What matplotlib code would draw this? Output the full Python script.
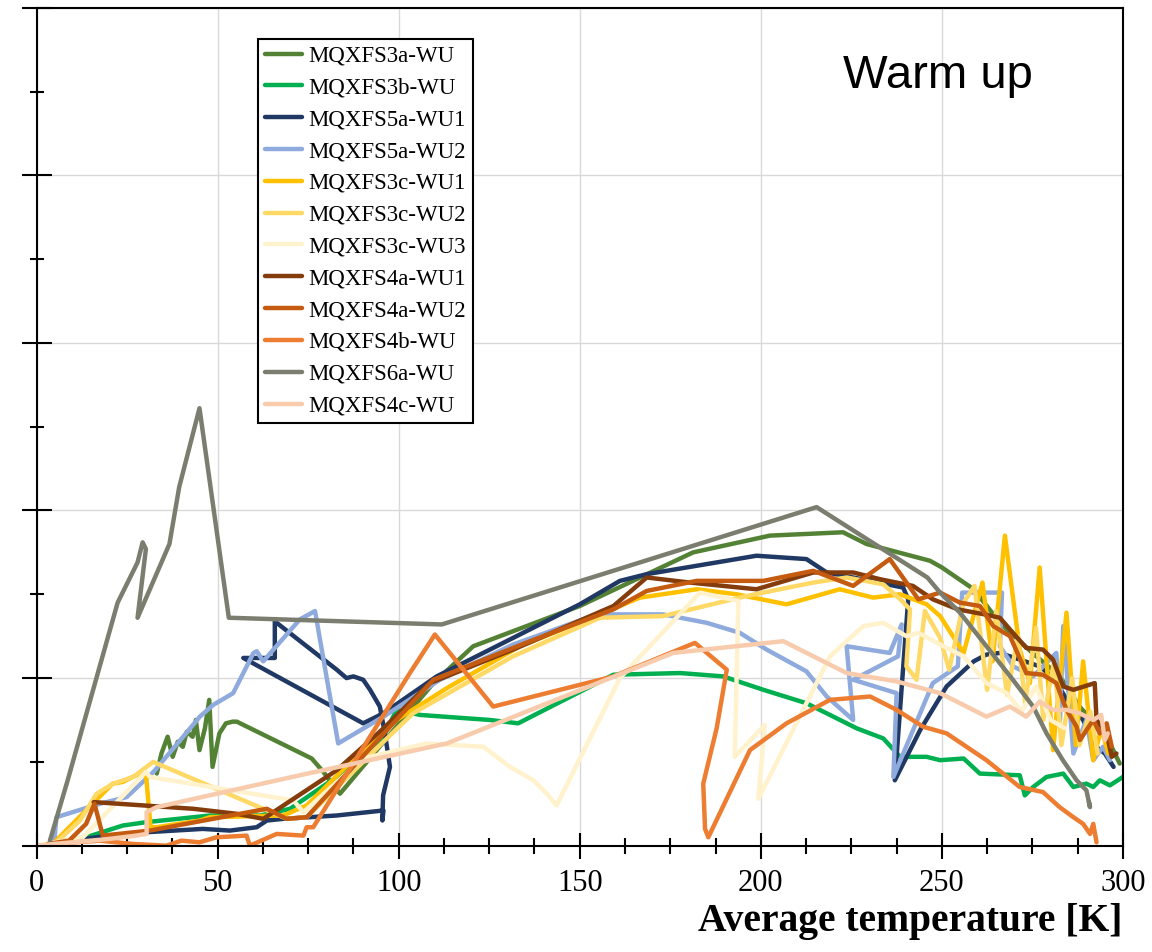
import matplotlib
matplotlib.use("Agg")
import matplotlib.pyplot as plt
from matplotlib.ticker import MultipleLocator, NullFormatter

# Warm-up curves, x = average temperature [K], y = unlabelled quantity
labels = ["MQXFS3a-WU", "MQXFS3b-WU", "MQXFS5a-WU1", "MQXFS5a-WU2",
          "MQXFS3c-WU1", "MQXFS3c-WU2", "MQXFS3c-WU3", "MQXFS4a-WU1",
          "MQXFS4a-WU2", "MQXFS4b-WU", "MQXFS6a-WU", "MQXFS4c-WU"]
colors = ["#548235", "#00B050", "#203864", "#8FAADC",
          "#FFC000", "#FFD966", "#FFF2CC", "#843C0C",
          "#C55A11", "#ED7D31", "#7B7D6E", "#F8CBAD"]

s3a_x = [33.2, 34.5, 36.2, 37.6, 39.0, 40.4, 41.5, 43.1, 44.0, 45.0, 46.5, 47.7, 48.6, 50.5, 52.3, 54.2, 55.3,
         76.0, 79.2, 83.8, 99.4, 109.6, 120.6, 150.0, 181.3, 202.5, 222.7, 229.2, 246.7, 250.0, 258.8, 266.0,
         275.0, 282.6, 288.0, 295.5, 299.1]
s3a_y = [0.43, 0.55, 0.65, 0.53, 0.62, 0.59, 0.68, 0.65, 0.75, 0.57, 0.70, 0.87, 0.47, 0.67, 0.73, 0.74, 0.74,
         0.52, 0.44, 0.31, 0.71, 0.97, 1.19, 1.43, 1.75, 1.85, 1.87, 1.80, 1.70, 1.66, 1.53, 1.33,
         1.15, 1.01, 0.83, 0.65, 0.49]

s3b_x = [5.4, 13.7, 23.8, 30.2, 47.9, 61.7, 70.0, 82.9, 95.8, 99.4, 105.9, 125.2, 133.0, 159.3, 177.7, 189.6,
         200.7, 212.6, 226.5, 233.8, 238.5, 245.8, 249.5, 256.0, 260.5, 271.5, 272.9, 275.2, 278.9, 283.5,
         286.3, 289.9, 291.8, 293.6, 296.4, 300.0]
s3b_y = [0.02, 0.05, 0.12, 0.14, 0.18, 0.18, 0.22, 0.41, 0.65, 0.81, 0.78, 0.75, 0.73, 1.02, 1.03, 1.01,
         0.93, 0.85, 0.70, 0.64, 0.53, 0.53, 0.51, 0.52, 0.43, 0.42, 0.30, 0.35, 0.41, 0.43,
         0.35, 0.37, 0.35, 0.39, 0.36, 0.41]

s5a1_x = [6.0, 20.0, 30.2, 45.9, 53.4, 60.8, 63.6, 68.1, 75.5, 82.9, 95.8, 95.5, 95.7, 97.6, 96.2, 94.8, 92.1,
          90.2, 87.5, 85.6, 82.9, 66.3, 65.8, 65.8, 57.1, 90.2, 95.8, 110.5, 150.0, 161.1, 168.5, 198.8,
          212.6, 218.2, 225.5, 239.3, 240.7, 237.0, 244.0, 251.3, 258.8, 262.3, 266.0, 271.5, 277.0, 281.0,
          285.0, 289.0, 292.0, 295.0, 297.4]
s5a1_y = [0.02, 0.06, 0.08, 0.10, 0.09, 0.11, 0.15, 0.16, 0.17, 0.18, 0.21, 0.15, 0.30, 0.47, 0.67, 0.83, 0.93,
          0.99, 1.01, 1.00, 1.05, 1.33, 1.34, 1.12, 1.12, 0.73, 0.79, 1.01, 1.44, 1.58, 1.62, 1.73,
          1.71, 1.63, 1.60, 1.54, 1.47, 0.39, 0.69, 0.95, 1.10, 1.14, 1.15, 1.11, 1.07, 1.00,
          0.85, 0.75, 0.60, 0.55, 0.47]

s5a2_x = [4.9, 5.5, 17.5, 24.9, 32.3, 40.5, 45.1, 48.8, 54.3, 59.9, 60.8, 62.6, 72.7, 76.9, 83.3, 95.8, 111.4,
          131.6, 154.7, 173.0, 185.0, 194.2, 201.6, 212.6, 218.2, 225.5, 223.7, 235.6, 238.9, 237.9, 225.5,
          237.5, 236.6, 247.5, 254.4, 255.6, 266.6, 266.0, 269.7, 275.2, 281.6, 282.6, 283.5, 286.3, 289.9,
          291.8, 294.5, 296.4]
s5a2_y = [0.02, 0.17, 0.25, 0.29, 0.44, 0.65, 0.77, 0.84, 0.91, 1.15, 1.16, 1.10, 1.35, 1.40, 0.61, 0.77, 0.99,
          1.20, 1.38, 1.38, 1.33, 1.27, 1.17, 1.04, 0.89, 0.75, 1.19, 1.15, 1.32, 1.13, 0.99,
          0.91, 0.41, 0.97, 1.07, 1.51, 1.51, 1.19, 1.07, 1.01, 1.15, 0.75, 1.31, 0.55, 0.75,
          0.51, 0.59, 0.51]

s3c1_x = [5.4, 16.4, 21.0, 23.8, 27.5, 30.2, 31.5, 33.2, 45.1, 47.9, 68.1, 74.6, 95.8, 99.4, 113.3, 133.5,
          155.6, 166.6, 182.3, 193.3, 207.1, 221.8, 231.0, 238.5, 245.8, 249.5, 256.0, 261.2, 264.0, 267.4,
          271.5, 274.3, 277.0, 280.7, 284.4, 287.0, 289.0, 291.8, 294.0, 296.0]
s3c1_y = [0.03, 0.27, 0.37, 0.38, 0.42, 0.43, 0.11, 0.11, 0.15, 0.17, 0.18, 0.24, 0.69, 0.75, 0.94, 1.19,
          1.38, 1.48, 1.53, 1.50, 1.44, 1.53, 1.48, 1.50, 1.44, 1.37, 1.15, 1.57, 1.10, 1.85,
          1.17, 0.97, 1.66, 0.57, 1.39, 0.60, 1.10, 0.51, 0.70, 0.55]

s3c2_x = [5.5, 12.0, 16.6, 21.2, 26.7, 32.2, 69.1, 74.6, 95.8, 104.0, 131.6, 155.6, 173.0, 196.1, 214.5, 223.7,
          233.8, 238.5, 241.2, 240.2, 243.0, 245.3, 249.5, 252.0, 256.0, 259.0, 262.5, 265.0, 268.0, 271.0,
          273.0, 276.0, 278.0, 281.0, 283.0, 286.0, 288.0, 291.0, 293.0]
s3c2_y = [0.02, 0.15, 0.31, 0.37, 0.41, 0.50, 0.16, 0.17, 0.62, 0.79, 1.13, 1.36, 1.37, 1.49, 1.57, 1.60,
          1.56, 1.47, 1.41, 1.07, 0.99, 1.40, 1.24, 1.05, 1.45, 1.55, 0.93, 1.40, 0.90, 1.25,
          0.85, 1.30, 0.75, 1.10, 0.60, 1.00, 0.60, 0.80, 0.55]

s3c3_x = [0.0, 12.8, 30.2, 31.3, 70.9, 73.7, 90.2, 107.7, 123.4, 130.7, 137.2, 140.9, 143.6, 161.1, 183.2,
          193.8, 192.8, 201.1, 199.3, 212.6, 219.1, 228.3, 233.8, 240.2, 243.5, 250.4, 256.0, 262.3, 267.9,
          272.0, 276.0, 280.0, 284.0]
s3c3_y = [0.0, 0.05, 0.44, 0.41, 0.27, 0.20, 0.52, 0.61, 0.59, 0.47, 0.39, 0.31, 0.24, 1.00, 1.51,
          1.46, 0.53, 0.72, 0.28, 0.85, 1.13, 1.31, 1.33, 1.25, 1.27, 1.19, 1.13, 0.97, 0.91,
          0.80, 0.95, 0.75, 0.70]

s4a1_x = [15.8, 43.3, 55.3, 62.6, 82.9, 95.8, 108.6, 131.6, 159.3, 168.5, 180.4, 198.8, 214.5, 225.5, 232.9,
          242.0, 247.5, 254.4, 261.8, 266.0, 268.8, 273.3, 277.9, 280.7, 283.5, 286.3, 292.2, 292.7, 295.5,
          296.9, 298.2]
s4a1_y = [0.26, 0.22, 0.19, 0.16, 0.45, 0.70, 0.97, 1.17, 1.43, 1.60, 1.57, 1.53, 1.63, 1.63, 1.59,
          1.55, 1.47, 1.41, 1.38, 1.36, 1.29, 1.18, 1.17, 1.11, 0.95, 0.93, 0.97, 0.75, 0.67,
          0.53, 0.55]

s4a2_x = [3.1, 9.0, 13.7, 16.0, 18.3, 31.3, 63.6, 69.1, 74.6, 109.6, 136.3, 159.3, 168.5, 182.3, 200.7, 214.5,
          225.5, 235.6, 243.5, 249.5, 255.0, 260.5, 264.2, 268.8, 273.3, 277.9, 281.6, 284.4, 287.2, 288.1,
          291.8, 293.6, 295.5, 296.9]
s4a2_y = [0.01, 0.03, 0.13, 0.25, 0.06, 0.09, 0.22, 0.16, 0.17, 0.99, 1.22, 1.41, 1.52, 1.58, 1.58, 1.64,
          1.55, 1.71, 1.47, 1.51, 1.45, 1.43, 1.31, 1.25, 1.03, 1.02, 0.97, 0.81, 0.71, 0.63,
          0.75, 0.67, 0.73, 0.59]

s4b_x = [3.7, 17.5, 26.7, 35.9, 40.0, 45.0, 49.7, 58.0, 58.9, 66.3, 73.7, 74.6, 76.4, 103.1, 110.0, 126.1,
         159.3, 181.8, 190.6, 187.8, 184.1, 184.6, 185.5, 197.0, 207.1, 219.1, 230.2, 237.5, 244.8, 251.3,
         262.3, 271.5, 277.9, 282.5, 286.3, 289.0, 290.9, 291.8, 292.7]
s4b_y = [0.01, 0.03, 0.01, 0.0, 0.03, 0.02, 0.05, 0.06, 0.0, 0.07, 0.06, 0.11, 0.11, 1.03, 1.26, 0.83,
         1.01, 1.21, 1.05, 0.70, 0.37, 0.10, 0.05, 0.57, 0.73, 0.87, 0.89, 0.81, 0.71, 0.67,
         0.51, 0.35, 0.32, 0.23, 0.17, 0.13, 0.07, 0.13, 0.02]

s6a_x = [3.7, 8.6, 22.4, 27.9, 29.3, 30.2, 27.9, 36.7, 39.4, 45.0, 53.1, 111.9, 215.4, 246.0, 249.5, 255.0,
         262.3, 269.6, 275.2, 278.9, 283.4, 287.2, 289.9, 290.5, 290.9, 290.6]
s6a_y = [0.03, 0.39, 1.45, 1.69, 1.81, 1.77, 1.36, 1.80, 2.14, 2.61, 1.36, 1.32, 2.02, 1.60, 1.51, 1.39,
         1.19, 0.99, 0.83, 0.67, 0.51, 0.39, 0.33, 0.27, 0.23, 0.26]

s4c_x = [0.0, 10.0, 20.0, 27.5, 30.4, 30.4, 33.2, 72.7, 113.3, 175.8, 206.2, 223.7, 237.5, 249.5, 262.3,
         268.8, 273.3, 277.0, 280.7, 284.4, 288.0, 291.8, 294.0, 295.0, 295.8]
s4c_y = [0.0, 0.02, 0.04, 0.06, 0.07, 0.20, 0.23, 0.42, 0.61, 1.15, 1.22, 1.03, 0.98, 0.91, 0.77,
         0.83, 0.77, 0.86, 0.81, 0.81, 0.79, 0.75, 0.78, 0.63, 0.67]

xs = [s3a_x, s3b_x, s5a1_x, s5a2_x, s3c1_x, s3c2_x, s3c3_x, s4a1_x, s4a2_x, s4b_x, s6a_x, s4c_x]
ys = [s3a_y, s3b_y, s5a1_y, s5a2_y, s3c1_y, s3c2_y, s3c3_y, s4a1_y, s4a2_y, s4b_y, s6a_y, s4c_y]

fig = plt.figure(figsize=(11.52, 9.52), dpi=100)
ax = fig.add_axes([0.0317, 0.1117, 0.9431, 0.8802])

for x, y, c, lab in zip(xs, ys, colors, labels):
    ax.plot(x, y, color=c, lw=3.2, label=lab, solid_joinstyle="round", solid_capstyle="round")

ax.set_xlim(0, 300)
ax.set_ylim(0, 5)
ax.xaxis.set_major_locator(MultipleLocator(50))
ax.xaxis.set_minor_locator(MultipleLocator(12.5))
ax.yaxis.set_major_locator(MultipleLocator(1))
ax.yaxis.set_minor_locator(MultipleLocator(0.5))
ax.yaxis.set_major_formatter(NullFormatter())
ax.grid(True, which="major", color="#d9d9d9", lw=1)
ax.set_axisbelow(True)

ax.tick_params(axis="x", which="major", direction="inout", length=19, width=1.5, pad=7,
               labelsize=22, labelfontfamily="Liberation Serif")
ax.tick_params(axis="x", which="minor", direction="inout", length=11, width=1.5)
ax.tick_params(axis="y", which="major", direction="inout", length=21, width=1.5)
ax.tick_params(axis="y", which="minor", direction="inout", length=10, width=1.5)
for s in ax.spines.values():
    s.set_linewidth(1.5)

ax.set_xlabel("Average temperature [K]", fontsize=28.5, fontweight="bold",
              family="Liberation Serif", loc="right", labelpad=4)

ax.text(0.742, 0.904, "Warm up", transform=ax.transAxes, fontsize=34,
        family="Liberation Sans", ha="left", va="baseline")

leg = ax.legend(loc="upper left", bbox_to_anchor=(0.204, 0.963), borderaxespad=0,
                prop={"family": "Liberation Serif", "size": 16.5}, handlelength=1.6,
                handletextpad=0.3, labelspacing=0.47, borderpad=0.3, fancybox=False,
                framealpha=1, edgecolor="black")
leg.get_frame().set_linewidth(1.5)

fig.savefig("out.png", dpi=100)
